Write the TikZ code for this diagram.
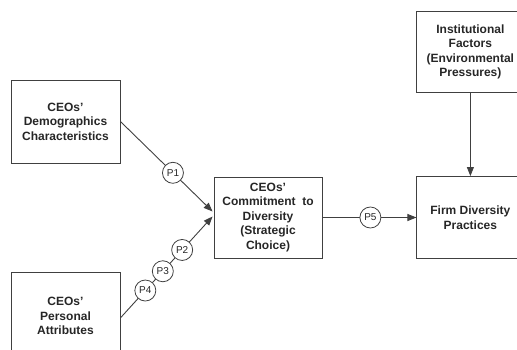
\documentclass[tikz,border=0pt]{standalone}
\usepackage{fontspec}
\setmainfont{Liberation Sans}
\usetikzlibrary{positioning,calc,arrows.meta}

\tikzset{
	block/.style = {draw=black!75, line width=0.9pt, align=center, inner sep=2pt,
		text=black!85, font=\fontsize{12}{14.5}\selectfont\bfseries},
	prop/.style = {circle, draw=black!75, line width=0.8pt, fill=white, inner sep=0pt,
		minimum size=21pt, text=black!85, font=\fontsize{10}{10}\selectfont},
	link/.style = {draw=black!75, line width=0.9pt},
	tip/.style = {-{Triangle[length=9pt,width=7pt]}},
}

\begin{document}
\begin{tikzpicture}[x=1pt, y=1pt]
		\useasboundingbox (0,0) rectangle (517,349);
		\clip (0,0) rectangle (517,349);
		
			\node [block, minimum width=109pt, minimum height=83pt] (demo) at (65.5,227.5)
				{CEOs'\\Demographics\\Characteristics};
			\node [block, minimum width=109pt, minimum height=86pt, below = 109pt of demo] (pers)
				{CEOs'\\Personal\\Attributes};
			\node [block, minimum width=108pt, minimum height=81pt] (commit) at (268,131.5)
				{CEOs'\\Commitment\ \ to\\Diversity\\(Strategic\\Choice)};
			\node [block, minimum width=107pt, minimum height=82pt, right = 94pt of commit] (firm)
				{Firm Diversity\\Practices};
			\node [block, minimum width=107pt, minimum height=81pt, above = 83pt of firm] (inst)
				{Institutional\\Factors\\(Environmental\\Pressures)};
			
			\coordinate (in1) at ($(commit.west)+(-1,6)$);
			\coordinate (in2) at ($(commit.west)+(-1,1)$);
			
			\draw [link, tip] (demo.east) -- (in1)
				node [prop, pos=0.57] (p1) {P1};
			\draw [link, tip] ($(pers.east)+(0,-2)$) -- (in2)
				node [prop, pos=0.27] (p4) {P4}
				node [prop, pos=0.46] (p3) {P3}
				node [prop, pos=0.67] (p2) {P2};
			\draw [link, tip] (commit.east) -- (firm.west)
				node [prop, pos=0.51] (p5) {P5};
			\draw [link, tip] (inst.south) -- (firm.north);
				
	\end{tikzpicture}
\end{document}
